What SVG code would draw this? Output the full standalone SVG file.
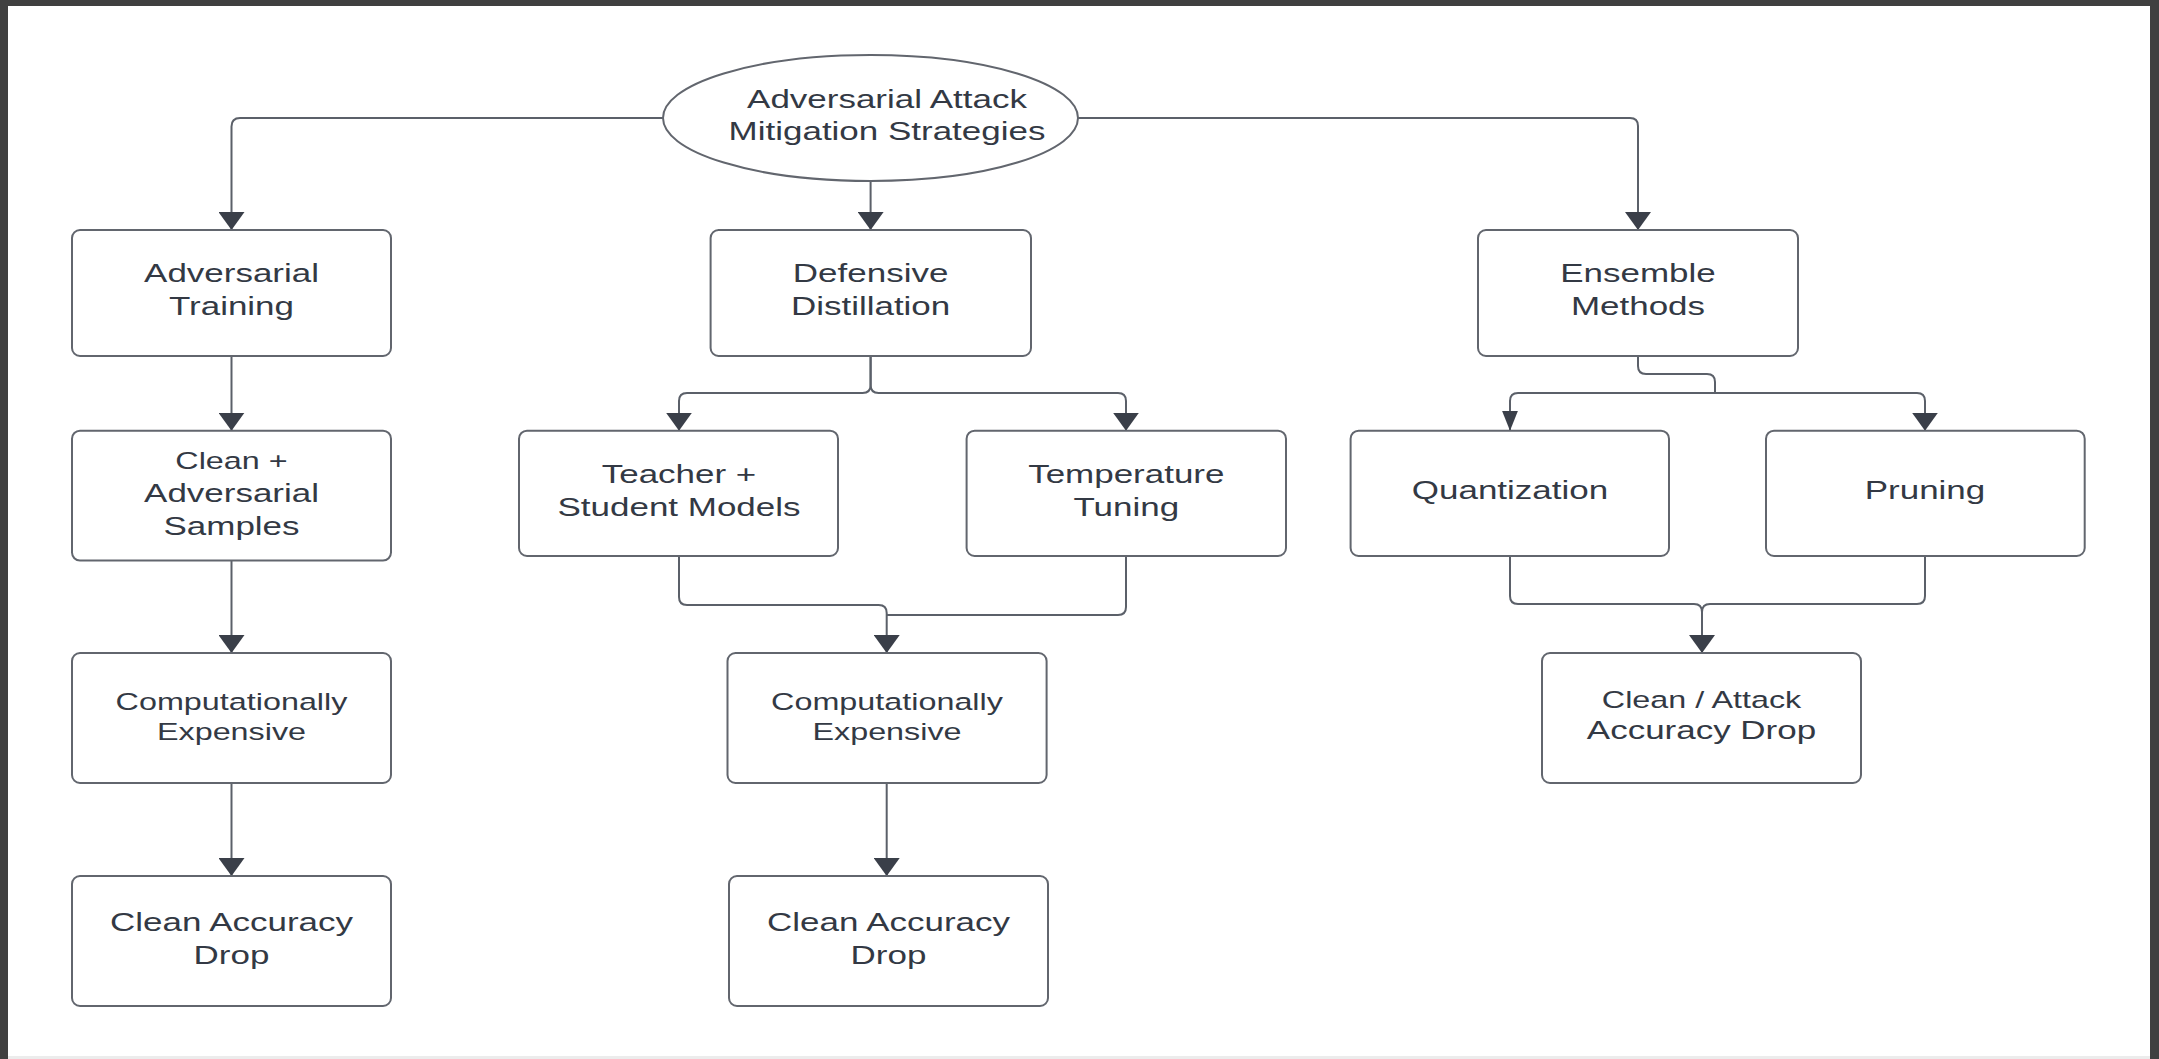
<svg xmlns="http://www.w3.org/2000/svg" width="2159" height="1059" viewBox="0 0 2159 1059">
<defs>
<style>
.box{fill:#ffffff;stroke:#62666e;stroke-width:2}
.edge{fill:none;stroke:#5b6069;stroke-width:2}
.t{font-family:"Liberation Sans",Arial,sans-serif;font-size:26.5px;fill:#333944;text-anchor:middle}
.s{font-size:24.5px}
</style>
<marker id="ah" viewBox="0 0 18 26" markerWidth="18" markerHeight="26" refX="18" refY="13" orient="auto" markerUnits="userSpaceOnUse">
<path d="M0 0 L18 13 L0 26 Z" fill="#3a3f49"/>
</marker>
<marker id="ahs" viewBox="0 0 20 16" markerWidth="20" markerHeight="16" refX="20" refY="8" orient="auto" markerUnits="userSpaceOnUse">
<path d="M0 0 L20 8 L0 16 Z" fill="#3a3f49"/>
</marker>
</defs>
<rect x="0" y="0" width="2159" height="1059" fill="#404040"/>
<rect x="8" y="6" width="2142" height="1050" fill="#ffffff"/>
<rect x="8" y="1056" width="2142" height="3" fill="#ececec"/>

<g id="connectors">
<path class="edge" marker-end="url(#ah)" d="M663 118 H240 Q231.5 118 231.5 126.5 V230"/>
<path class="edge" marker-end="url(#ah)" d="M870.6 181 V230"/>
<path class="edge" marker-end="url(#ah)" d="M1078 118 H1630 Q1638 118 1638 126 V230"/>
<path class="edge" marker-end="url(#ah)" d="M231.5 356 V430.7"/>
<path class="edge" marker-end="url(#ah)" d="M231.5 560.6 V653"/>
<path class="edge" marker-end="url(#ah)" d="M231.5 783 V876"/>
<path class="edge" marker-end="url(#ah)" d="M870.6 356 V385 Q870.6 393 862.6 393 H687 Q679 393 679 401 V430.7"/>
<path class="edge" marker-end="url(#ah)" d="M870.6 356 V385 Q870.6 393 878.6 393 H1118 Q1126 393 1126 401 V430.7"/>
<path class="edge" marker-end="url(#ah)" d="M679 556 V597 Q679 605 687 605 H878.7 Q886.7 605 886.7 613 V653"/>
<path class="edge" d="M1126 556 V607 Q1126 615 1118 615 H886.7"/>
<path class="edge" marker-end="url(#ah)" d="M886.7 783 V876"/>
<path class="edge" d="M1638 356 V366 Q1638 374 1646 374 H1707 Q1715 374 1715 382 V393"/>
<path class="edge" marker-end="url(#ahs)" d="M1715 393 H1518 Q1510 393 1510 401 V430.7"/>
<path class="edge" marker-end="url(#ah)" d="M1715 393 H1917 Q1925 393 1925 401 V430.7"/>
<path class="edge" marker-end="url(#ah)" d="M1510 556 V596 Q1510 604 1518 604 H1694 Q1702 604 1702 612 V653"/>
<path class="edge" d="M1925 556 V596 Q1925 604 1917 604 H1710 Q1702 604 1702 612"/>
</g>

<g id="root">
<ellipse class="box" cx="870.5" cy="118" rx="207.5" ry="63"/>
<g transform="translate(887 0) scale(1.32 1)"><text class="t" x="0" y="108">Adversarial Attack</text><text class="t" x="0" y="140">Mitigation Strategies</text></g>
</g>

<g id="adv-training">
<rect class="box" x="72" y="230" width="319" height="126" rx="8"/>
<g transform="translate(231.5 0) scale(1.32 1)"><text class="t" x="0" y="282">Adversarial</text><text class="t" x="0" y="315">Training</text></g>
</g>
<g id="def-distillation">
<rect class="box" x="710.6" y="230" width="320.4" height="126" rx="8"/>
<g transform="translate(870.6 0) scale(1.32 1)"><text class="t" x="0" y="282">Defensive</text><text class="t" x="0" y="315">Distillation</text></g>
</g>
<g id="ensemble">
<rect class="box" x="1478" y="230" width="320" height="126" rx="8"/>
<g transform="translate(1638 0) scale(1.32 1)"><text class="t" x="0" y="282">Ensemble</text><text class="t" x="0" y="315">Methods</text></g>
</g>

<g id="clean-adv-samples">
<rect class="box" x="72" y="430.7" width="319" height="129.9" rx="8"/>
<g transform="translate(231.5 0) scale(1.32 1)"><text class="t s" x="0" y="469">Clean +</text><text class="t" x="0" y="502">Adversarial</text><text class="t" x="0" y="535">Samples</text></g>
</g>
<g id="teacher-student">
<rect class="box" x="519" y="430.7" width="319" height="125.3" rx="8"/>
<g transform="translate(679 0) scale(1.32 1)"><text class="t" x="0" y="483">Teacher +</text><text class="t" x="0" y="516">Student Models</text></g>
</g>
<g id="temperature">
<rect class="box" x="966.6" y="430.7" width="319.4" height="125.3" rx="8"/>
<g transform="translate(1126.3 0) scale(1.32 1)"><text class="t" x="0" y="483">Temperature</text><text class="t" x="0" y="516">Tuning</text></g>
</g>
<g id="quantization">
<rect class="box" x="1350.6" y="430.7" width="318.4" height="125.3" rx="8"/>
<g transform="translate(1510 0) scale(1.32 1)"><text class="t" x="0" y="499">Quantization</text></g>
</g>
<g id="pruning">
<rect class="box" x="1766" y="430.7" width="318.7" height="125.3" rx="8"/>
<g transform="translate(1925 0) scale(1.32 1)"><text class="t" x="0" y="499">Pruning</text></g>
</g>

<g id="comp-exp-left">
<rect class="box" x="72" y="653" width="319" height="130" rx="8"/>
<g transform="translate(231.5 0) scale(1.32 1)"><text class="t s" x="0" y="710">Computationally</text><text class="t s" x="0" y="740">Expensive</text></g>
</g>
<g id="comp-exp-mid">
<rect class="box" x="727.5" y="653" width="319.1" height="130" rx="8"/>
<g transform="translate(887 0) scale(1.32 1)"><text class="t s" x="0" y="710">Computationally</text><text class="t s" x="0" y="740">Expensive</text></g>
</g>
<g id="clean-attack-drop">
<rect class="box" x="1542" y="653" width="319" height="130" rx="8"/>
<g transform="translate(1701.5 0) scale(1.32 1)"><text class="t s" x="0" y="708">Clean / Attack</text><text class="t" x="0" y="739">Accuracy Drop</text></g>
</g>

<g id="clean-drop-left">
<rect class="box" x="72" y="876" width="319" height="130" rx="8"/>
<g transform="translate(231.5 0) scale(1.32 1)"><text class="t" x="0" y="931">Clean Accuracy</text><text class="t" x="0" y="964">Drop</text></g>
</g>
<g id="clean-drop-mid">
<rect class="box" x="729" y="876" width="319" height="130" rx="8"/>
<g transform="translate(888.5 0) scale(1.32 1)"><text class="t" x="0" y="931">Clean Accuracy</text><text class="t" x="0" y="964">Drop</text></g>
</g>
</svg>
